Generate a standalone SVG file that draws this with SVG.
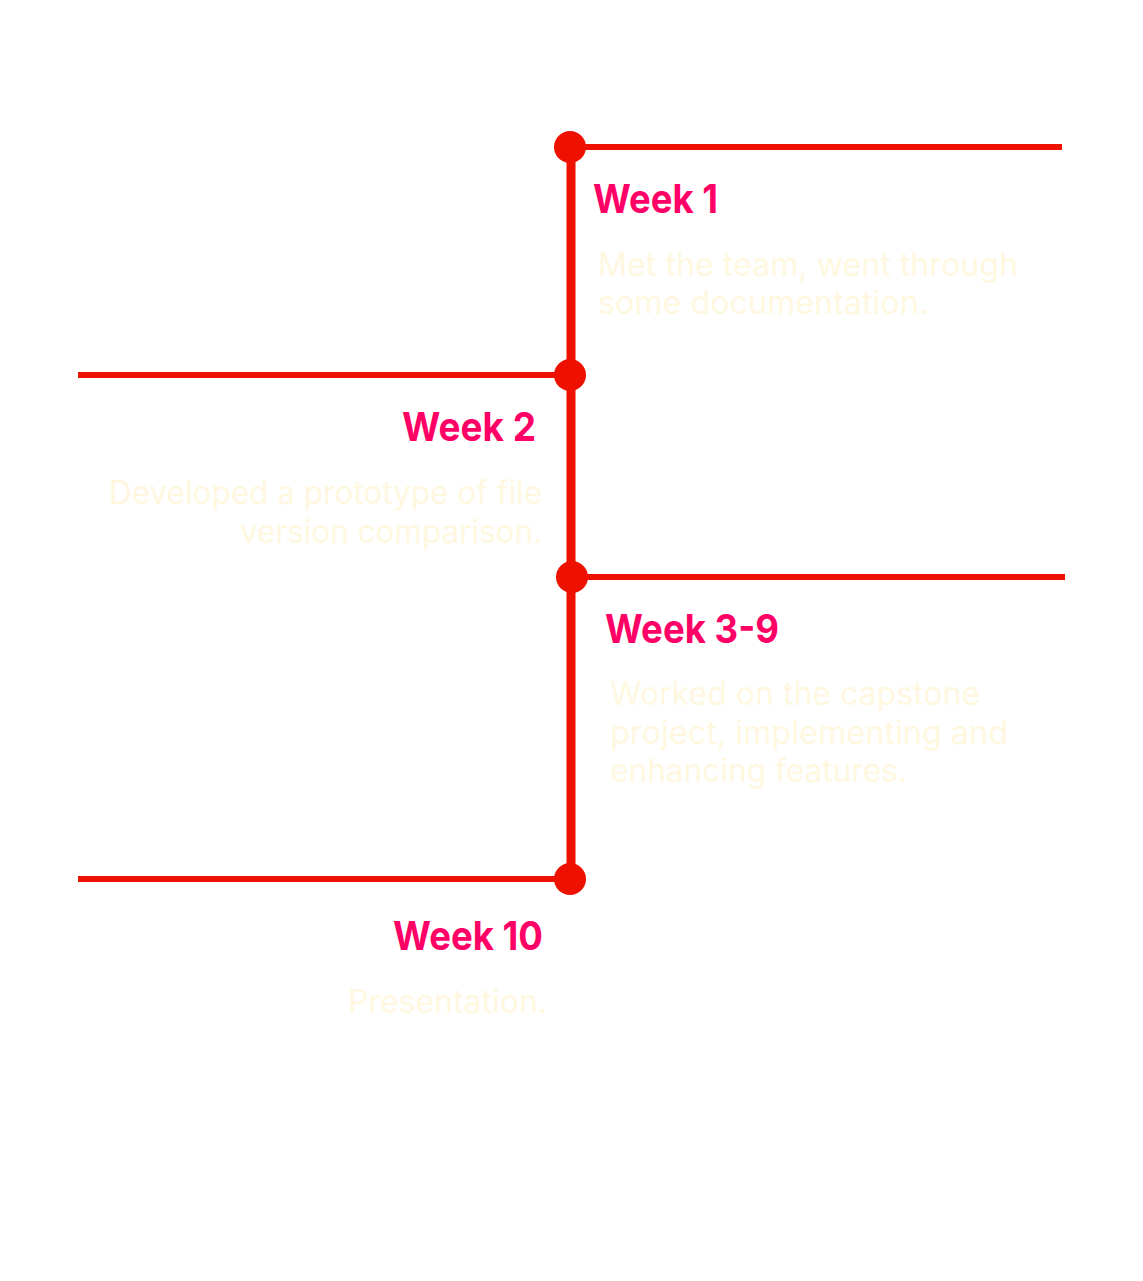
<svg xmlns="http://www.w3.org/2000/svg" width="1143" height="1281" viewBox="0 0 1143 1281">
<style>
.ln{stroke:#ee1100;stroke-width:6;fill:none}
.vl{stroke:#ee1100;stroke-width:9;fill:none}
.dot{fill:#ee1100}
.t{font-family:Inter,"Liberation Sans",sans-serif;font-weight:700;font-size:40px;fill:#ff0066}
.b{font-family:Inter,"Liberation Sans",sans-serif;font-weight:400;font-size:32px;fill:#fff7e0}
</style>
<rect width="1143" height="1281" fill="#ffffff"/>
<g id="connectors">
<line class="vl" x1="571" y1="147" x2="571" y2="879"/>
<line class="ln" x1="570" y1="147" x2="1062" y2="147"/>
<line class="ln" x1="78" y1="375" x2="570" y2="375"/>
<line class="ln" x1="572" y1="577" x2="1065" y2="577"/>
<line class="ln" x1="78" y1="879" x2="570" y2="879"/>
</g>
<g id="week1">
<circle class="dot" cx="570" cy="147" r="16"/>
<text class="t" x="593" y="213" textLength="125" lengthAdjust="spacingAndGlyphs">Week 1</text>
<text class="b" x="598" y="276" textLength="420" lengthAdjust="spacingAndGlyphs">Met the team, went through</text>
<text class="b" x="598" y="314" textLength="330" lengthAdjust="spacingAndGlyphs">some documentation.</text>
</g>
<g id="week2">
<circle class="dot" cx="570" cy="375" r="16"/>
<text class="t" x="402" y="441" textLength="134" lengthAdjust="spacingAndGlyphs">Week 2</text>
<text class="b" x="109" y="504" textLength="433" lengthAdjust="spacingAndGlyphs">Developed a prototype of file</text>
<text class="b" x="240" y="543" textLength="302" lengthAdjust="spacingAndGlyphs">version comparison.</text>
</g>
<g id="week3-9">
<circle class="dot" cx="572" cy="577" r="16"/>
<text class="t" x="605" y="643" textLength="174" lengthAdjust="spacingAndGlyphs">Week 3-9</text>
<text class="b" x="610" y="705" textLength="370" lengthAdjust="spacingAndGlyphs">Worked on the capstone</text>
<text class="b" x="610" y="744" textLength="398" lengthAdjust="spacingAndGlyphs">project, implementing and</text>
<text class="b" x="610" y="782" textLength="297" lengthAdjust="spacingAndGlyphs">enhancing features.</text>
</g>
<g id="week10">
<circle class="dot" cx="570" cy="879" r="16"/>
<text class="t" x="393" y="950" textLength="150" lengthAdjust="spacingAndGlyphs">Week 10</text>
<text class="b" x="348" y="1013" textLength="199" lengthAdjust="spacingAndGlyphs">Presentation.</text>
</g>
</svg>
